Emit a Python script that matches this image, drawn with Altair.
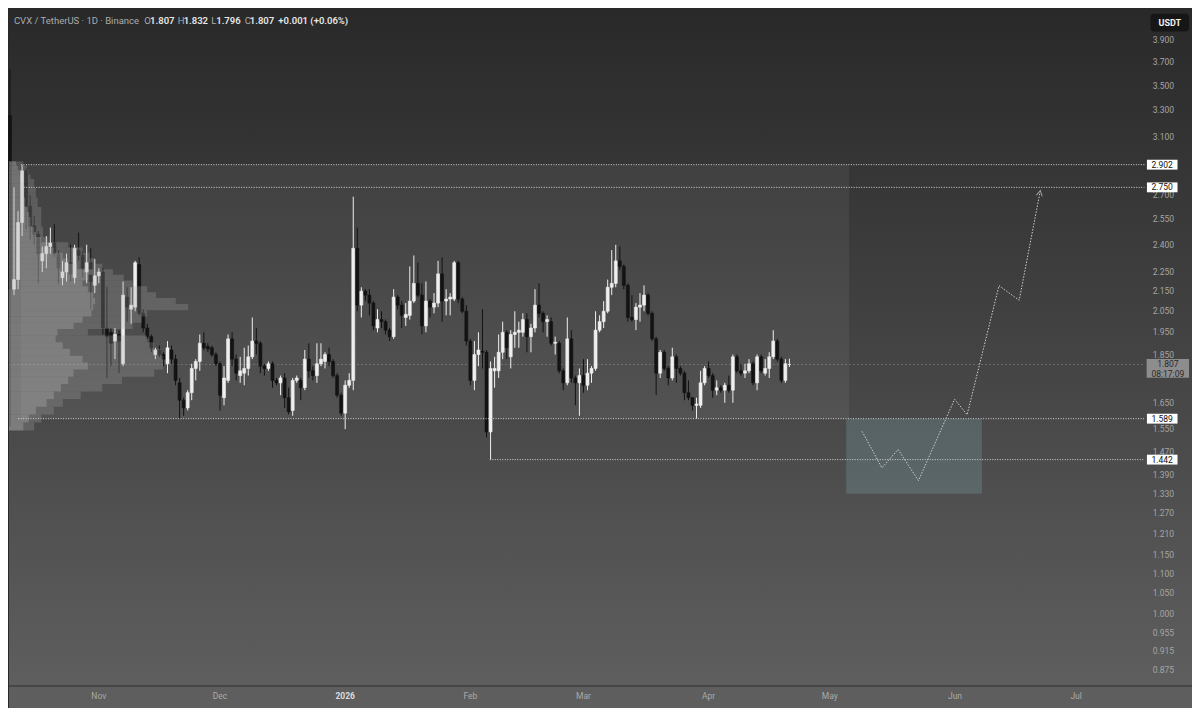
import altair as alt
import pandas as pd

# ---------------- canvas ----------------
W, H = 1184, 700          # whole chart (page is 1200x716 with an 8px margin)
RW, RH = 1200, 716        # reference picture size


def sx(v):
    return round(v * W / RW, 2)


def sy(v):
    return round(v * H / RH, 2)


# time is counted in days from 1 Nov 2025
X0, X1 = -22.244, 270.439       # days at the left / right edge of the picture
X_SCALE_EDGE = 258.9            # day at the price-scale border
P_TOP, P_BOT = 4.158, 0.8097    # prices at the top / bottom edge (log scale)

# ---------------- daily candles, CVX/USDT, from 10 Oct 2025 ----------------
FIRST_DAY = -22
opens = [3.26, 2.16, 2.21, 2.53, 2.86, 2.63, 2.51, 2.46, 2.31, 2.35,
         2.39, 2.41, 2.35, 2.22, 2.25, 2.30, 2.22, 2.37, 2.34, 2.25,
         2.30, 2.18, 2.23, 2.25, 1.97, 1.95, 1.91, 1.94, 1.81, 2.12,
         2.06, 2.07, 2.29, 2.04, 1.97, 1.93, 1.85, 1.87, 1.85, 1.81,
         1.87, 1.83, 1.73, 1.66, 1.63, 1.69, 1.79, 1.82, 1.90, 1.885,
         1.88, 1.85, 1.81, 1.67, 1.74, 1.92, 1.83, 1.76, 1.77, 1.79,
         1.84, 1.91, 1.90, 1.80, 1.79, 1.81, 1.74, 1.73, 1.75, 1.67,
         1.62, 1.74, 1.74, 1.71, 1.83, 1.78, 1.76, 1.81, 1.82, 1.85,
         1.82, 1.76, 1.68, 1.61, 1.72, 1.74, 2.38, 2.08, 2.15, 2.13,
         2.09, 1.97, 2.01, 2.00, 1.96, 1.93, 2.12, 2.08, 2.02, 2.03,
         2.10, 2.19, 2.13, 1.98, 2.10, 2.07, 2.09, 2.24, 2.10, 2.11,
         2.11, 2.30, 2.11, 2.05, 1.91, 1.74, 1.85, 1.865, 1.86, 1.54,
         1.78, 1.78, 1.86, 1.95, 1.84, 1.94, 1.95, 1.95, 2.01, 1.93,
         1.97, 2.08, 2.04, 2.00, 2.00, 1.90, 1.90, 1.78, 1.73, 1.92,
         1.75, 1.73, 1.76, 1.72, 1.77, 1.79, 1.96, 2.00, 2.05, 2.17,
         2.19, 2.31, 2.28, 2.18, 2.02, 2.01, 2.07, 2.08, 2.13, 2.04,
         1.92, 1.77, 1.86, 1.79, 1.75, 1.84, 1.79, 1.77, 1.69, 1.67,
         1.64, 1.64, 1.73, 1.79, 1.76, 1.70, 1.71, 1.70, 1.72, 1.70,
         1.84, 1.78, 1.77, 1.78, 1.81, 1.73, 1.84, 1.77, 1.79, 1.84,
         1.91, 1.83, 1.74, 1.807]
highs = [3.64, 2.75, 2.60, 2.90, 2.88, 2.70, 2.57, 2.48, 2.39, 2.45,
         2.50, 2.52, 2.37, 2.31, 2.35, 2.40, 2.40, 2.47, 2.36, 2.40,
         2.38, 2.32, 2.27, 2.27, 2.17, 1.97, 1.97, 1.96, 2.20, 2.17,
         2.17, 2.31, 2.33, 2.06, 1.99, 1.94, 1.88, 1.89, 1.86, 1.91,
         1.89, 1.85, 1.75, 1.67, 1.70, 1.81, 1.83, 1.94, 1.95, 1.90,
         1.89, 1.86, 1.82, 1.80, 1.94, 1.95, 1.85, 1.84, 1.88, 1.89,
         2.02, 1.97, 1.91, 1.81, 1.82, 1.82, 1.75, 1.76, 1.77, 1.71,
         1.75, 1.76, 1.75, 1.87, 1.90, 1.80, 1.90, 1.90, 1.86, 1.88,
         1.83, 1.77, 1.69, 1.74, 1.77, 2.69, 2.50, 2.17, 2.16, 2.16,
         2.10, 2.06, 2.05, 2.01, 1.97, 2.16, 2.13, 2.10, 2.09, 2.28,
         2.34, 2.30, 2.19, 2.20, 2.11, 2.14, 2.31, 2.33, 2.16, 2.14,
         2.31, 2.31, 2.12, 2.08, 1.92, 1.91, 1.95, 2.06, 1.87, 1.82,
         1.84, 1.94, 2.00, 1.96, 1.96, 2.05, 2.00, 2.04, 2.04, 1.99,
         2.16, 2.19, 2.05, 2.03, 2.02, 1.93, 1.91, 1.79, 2.02, 1.96,
         1.76, 1.79, 1.83, 1.83, 1.80, 2.05, 2.03, 2.10, 2.21, 2.37,
         2.40, 2.39, 2.29, 2.19, 2.13, 2.09, 2.14, 2.18, 2.14, 2.05,
         1.93, 1.87, 1.87, 1.80, 1.88, 1.85, 1.80, 1.78, 1.74, 1.67,
         1.67, 1.78, 1.80, 1.82, 1.77, 1.74, 1.72, 1.73, 1.76, 1.85,
         1.85, 1.81, 1.81, 1.83, 1.82, 1.85, 1.85, 1.83, 1.86, 1.96,
         1.92, 1.84, 1.83, 1.832]
lows = [1.56, 2.13, 2.16, 2.45, 2.49, 2.43, 2.40, 2.19, 2.25, 2.27,
        2.35, 2.33, 2.19, 2.18, 2.20, 2.20, 2.19, 2.31, 2.22, 2.19,
        2.06, 2.14, 2.19, 1.94, 1.75, 1.80, 1.83, 1.77, 1.80, 2.00,
        1.99, 2.05, 2.03, 1.95, 1.92, 1.86, 1.83, 1.84, 1.80, 1.77,
        1.81, 1.72, 1.59, 1.60, 1.62, 1.66, 1.74, 1.78, 1.87, 1.86,
        1.84, 1.80, 1.62, 1.64, 1.73, 1.80, 1.74, 1.73, 1.72, 1.76,
        1.83, 1.85, 1.77, 1.76, 1.78, 1.71, 1.72, 1.68, 1.63, 1.605,
        1.60, 1.73, 1.66, 1.70, 1.75, 1.74, 1.73, 1.80, 1.79, 1.80,
        1.75, 1.67, 1.60, 1.55, 1.71, 1.70, 2.05, 2.02, 2.10, 2.03,
        1.96, 1.95, 1.97, 1.94, 1.91, 1.92, 2.06, 1.97, 1.98, 2.01,
        2.09, 2.12, 1.94, 1.95, 2.02, 2.04, 2.07, 2.00, 2.03, 2.03,
        2.10, 2.09, 2.04, 1.89, 1.72, 1.70, 1.80, 1.79, 1.52, 1.442,
        1.71, 1.75, 1.83, 1.83, 1.79, 1.88, 1.88, 1.93, 1.86, 1.86,
        1.95, 2.02, 1.95, 1.93, 1.89, 1.85, 1.77, 1.70, 1.72, 1.73,
        1.64, 1.60, 1.69, 1.70, 1.73, 1.78, 1.95, 1.97, 2.04, 2.13,
        2.17, 2.26, 2.16, 2.00, 2.00, 1.96, 2.00, 2.05, 2.03, 1.91,
        1.68, 1.75, 1.78, 1.72, 1.74, 1.73, 1.76, 1.66, 1.66, 1.62,
        1.589, 1.63, 1.72, 1.75, 1.67, 1.68, 1.69, 1.65, 1.69, 1.65,
        1.77, 1.76, 1.75, 1.77, 1.72, 1.70, 1.77, 1.76, 1.75, 1.83,
        1.82, 1.73, 1.73, 1.796]
closes = [2.16, 2.21, 2.53, 2.86, 2.63, 2.51, 2.46, 2.35, 2.35, 2.39,
          2.41, 2.35, 2.27, 2.25, 2.30, 2.24, 2.38, 2.34, 2.27, 2.30,
          2.20, 2.23, 2.25, 1.97, 1.93, 1.90, 1.94, 1.91, 2.13, 2.07,
          2.08, 2.30, 2.04, 1.97, 1.93, 1.88, 1.87, 1.85, 1.83, 1.88,
          1.83, 1.74, 1.66, 1.63, 1.69, 1.79, 1.82, 1.90, 1.88, 1.875,
          1.85, 1.81, 1.68, 1.75, 1.92, 1.83, 1.77, 1.78, 1.79, 1.84,
          1.91, 1.90, 1.80, 1.79, 1.81, 1.74, 1.73, 1.75, 1.67, 1.615,
          1.74, 1.75, 1.71, 1.83, 1.78, 1.76, 1.81, 1.83, 1.85, 1.82,
          1.76, 1.68, 1.61, 1.72, 1.74, 2.38, 2.08, 2.15, 2.13, 2.09,
          1.98, 2.01, 2.00, 1.96, 1.93, 2.12, 2.08, 2.03, 2.035, 2.10,
          2.19, 2.13, 1.98, 2.10, 2.07, 2.09, 2.24, 2.10, 2.11, 2.12,
          2.30, 2.11, 2.05, 1.91, 1.74, 1.85, 1.87, 1.86, 1.54, 1.79,
          1.79, 1.86, 1.95, 1.88, 1.94, 1.95, 1.96, 2.01, 1.93, 1.97,
          2.08, 2.04, 2.00, 2.01, 1.90, 1.905, 1.78, 1.73, 1.92, 1.75,
          1.73, 1.76, 1.72, 1.77, 1.79, 1.96, 2.00, 2.05, 2.17, 2.19,
          2.31, 2.28, 2.18, 2.02, 2.01, 2.07, 2.08, 2.13, 2.04, 1.92,
          1.77, 1.86, 1.79, 1.75, 1.84, 1.79, 1.77, 1.69, 1.67, 1.64,
          1.645, 1.73, 1.79, 1.76, 1.70, 1.71, 1.70, 1.72, 1.70, 1.84,
          1.78, 1.77, 1.78, 1.81, 1.73, 1.84, 1.78, 1.79, 1.84, 1.91,
          1.83, 1.74, 1.81, 1.807]

# ---------------- visible-range volume profile (relative volume, peak = 100) ----------------
prof_price = [1.56, 1.59, 1.62, 1.65, 1.68, 1.71, 1.74, 1.77, 1.80, 1.83,
              1.86, 1.89, 1.92, 1.95, 1.98, 2.01, 2.04, 2.07, 2.10, 2.13,
              2.16, 2.19, 2.22, 2.25, 2.28, 2.31, 2.34, 2.37, 2.40, 2.43,
              2.46, 2.49, 2.52, 2.55, 2.58, 2.61, 2.64, 2.67, 2.70, 2.73,
              2.76, 2.79, 2.82, 2.85, 2.88, 2.91]
prof_total = [14, 18, 25, 30, 40, 52, 63, 81, 86, 86,
              85, 81, 77, 44, 69, 74, 77, 100, 93, 82,
              77, 69, 64, 58, 52, 48, 45, 41, 33, 22,
              19, 19, 18, 18, 18, 18, 16, 16, 15, 15,
              14, 14, 12, 11, 10, 8]
prof_up = [8, 11, 15, 21, 25, 29, 33, 36, 44, 41,
           34, 30, 26, 27, 36, 41, 46, 47, 48, 47,
           44, 41, 44, 47, 38, 33, 30, 25, 22, 18,
           15, 14, 12, 12, 11, 10, 9, 9, 8, 8,
           8, 7, 7, 6, 5, 4]
PROF_ROW = 0.03
PROF_DOMAIN_MAX = 659.3   # relative volume that would span the whole width

# ---------------- levels, range box, projection, zone ----------------
level_price = [2.902, 2.750, 1.589, 1.442]
level_start = [-19.3, -18.6, -20.0, 96.8]
level_label = ["2.902", "2.750", "1.589", "1.442"]
last_price = 1.807
countdown = "08:17:09"

range_day = [-19.3, 185.8]
range_price = [1.589, 2.902]

path_day = [189.0, 193.9, 197.9, 202.95, 211.9, 215.0, 222.9, 227.9, 233.0]
path_price = [1.542, 1.414, 1.477, 1.372, 1.664, 1.604, 2.178, 2.104, 2.712]

zone_day = [185.07, 218.66]
zone_price = [1.330, 1.589]

# price-scale labels (1.750 sits under the last-price box and is left out)
tick_values = [3.9, 3.7, 3.5, 3.3, 3.1, 2.7, 2.55, 2.4, 2.25, 2.15, 2.05, 1.95,
               1.85, 1.65, 1.55, 1.47, 1.39, 1.33, 1.27, 1.21, 1.15,
               1.10, 1.05, 1.00, 0.955, 0.915, 0.875]
month_labels = ["Nov", "Dec", "2026", "Feb", "Mar", "Apr", "May", "Jun", "Jul"]
month_days = [0, 30, 61, 92, 120, 151, 181, 212, 242]

# ---------------- frames ----------------
n = len(opens)
candles = pd.DataFrame({
    "day": list(range(FIRST_DAY, FIRST_DAY + n)),
    "open": opens, "high": highs, "low": lows, "close": closes,
})
candles["dir"] = ["up" if c >= o else "down" for o, c in zip(opens, closes)]
candles["x0"] = candles["day"] - 0.37
candles["x1"] = candles["day"] + 0.37

prof = pd.DataFrame({"price": prof_price, "total": prof_total, "up": prof_up})
prof["lo"] = prof["price"] - PROF_ROW / 2
prof["hi"] = prof["price"] + PROF_ROW / 2

levels = pd.DataFrame({"price": level_price, "start": level_start,
                       "end": [X_SCALE_EDGE] * len(level_price), "label": level_label})
last = pd.DataFrame({"price": [last_price], "start": [X0], "end": [X_SCALE_EDGE],
                     "label": [f"{last_price:.3f}"], "cd": [countdown]})
rng = pd.DataFrame({"d0": [range_day[0]], "d1": [range_day[1]],
                    "p0": [range_price[0]], "p1": [range_price[1]]})
path = pd.DataFrame({"day": path_day, "price": path_price, "order": list(range(len(path_day)))})
arrow = path.tail(1)
zone = pd.DataFrame({"d0": [zone_day[0]], "d1": [zone_day[1]],
                     "p0": [zone_price[0]], "p1": [zone_price[1]]})
ticks = pd.DataFrame({"price": tick_values, "label": [f"{v:.3f}" for v in tick_values]})
months = pd.DataFrame({"day": month_days, "label": month_labels})
one = pd.DataFrame({"a": [0]})

XS = alt.Scale(domain=[X0, X1], nice=False, zero=False)
YS = alt.Scale(type="log", domain=[P_BOT, P_TOP], nice=False)
VS = alt.Scale(domain=[0, PROF_DOMAIN_MAX], nice=False, zero=True)
CS = alt.Scale(domain=["up", "down"], range=["#efefef", "#131313"])


def X(f):
    return alt.X(f, type="quantitative", scale=XS, axis=None)


def Y(f):
    return alt.Y(f, type="quantitative", scale=YS, axis=None)


FONT = "Roboto"

bg = alt.Chart(one).mark_rect(
    color=alt.LinearGradient(
        gradient="linear",
        stops=[alt.GradientStop(color="#292929", offset=0),
               alt.GradientStop(color="#444444", offset=0.5),
               alt.GradientStop(color="#606060", offset=1)],
        x1=0, x2=0, y1=0, y2=1)
).encode(x=alt.value(0), x2=alt.value(W), y=alt.value(0), y2=alt.value(H))

range_rect = alt.Chart(rng).mark_rect(color="#ffffff", opacity=0.06).encode(
    x=X("d0"), x2="d1", y=Y("p0"), y2="p1")

zone_rect = alt.Chart(zone).mark_rect(color="#7fa6b0", opacity=0.28).encode(
    x=X("d0"), x2="d1", y=Y("p0"), y2="p1")

wicks = alt.Chart(candles).mark_rule(strokeWidth=1).encode(
    x=X("day"), y=Y("low"), y2="high",
    color=alt.Color("dir:N", scale=CS, legend=None))

bodies = alt.Chart(candles).mark_rect(strokeWidth=0.6).encode(
    x=X("x0"), x2="x1", y=Y("open"), y2="close",
    fill=alt.Fill("dir:N", scale=CS, legend=None),
    stroke=alt.Stroke("dir:N", scale=CS, legend=None))

prof_total_bar = alt.Chart(prof).mark_bar(orient="horizontal", color="#a8a8a8", opacity=0.27).encode(
    x=alt.X("total:Q", scale=VS, axis=None), y=Y("lo"), y2="hi")
prof_up_bar = alt.Chart(prof).mark_bar(orient="horizontal", color="#c8c8c8", opacity=0.26).encode(
    x=alt.X("up:Q", scale=VS, axis=None), y=Y("lo"), y2="hi")

last_line = alt.Chart(last).mark_rule(color="#9a9a9a", strokeWidth=1, opacity=0.45,
                                      strokeDash=[2, 2]).encode(x=X("start"), x2="end", y=Y("price"))
level_lines = alt.Chart(levels).mark_rule(color="#d6d6d6", strokeWidth=1,
                                          strokeDash=[1, 1.5]).encode(x=X("start"), x2="end", y=Y("price"))

path_line = alt.Chart(path).mark_line(color="#cfcfcf", strokeWidth=1, strokeDash=[1.5, 1.5]).encode(
    x=X("day"), y=Y("price"), order="order:Q")
arrow_head = alt.Chart(arrow).mark_point(shape="M -1 0.9 L 0 -0.9 L 1 0.9", filled=False,
                                         color="#cfcfcf", strokeWidth=1, size=36, angle=11).encode(
    x=X("day"), y=Y("price"))

# bottom time-scale strip
time_strip = alt.Chart(one).mark_rect(color="#5e5e5e").encode(
    x=alt.value(0), x2=alt.value(W), y=alt.value(sy(693)), y2=alt.value(H))
time_border = alt.Chart(one).mark_rule(color="#2e2e2e", strokeWidth=1).encode(
    x=alt.value(0), x2=alt.value(W), y=alt.value(sy(693.5)))
month_plain = alt.Chart(months).transform_filter("datum.label != '2026'").mark_text(
    font=FONT, fontSize=8.5, baseline="middle", align="center", color="#a9a9a9").encode(
    x=X("day"), y=alt.value(sy(704)), text="label:N")
month_bold = alt.Chart(months).transform_filter("datum.label == '2026'").mark_text(
    font=FONT, fontSize=8.5, baseline="middle", align="center", color="#dcdcdc", fontWeight="bold").encode(
    x=X("day"), y=alt.value(sy(704)), text="label:N")

# price scale labels
tick_text = alt.Chart(ticks).mark_text(font=FONT, fontSize=8.5, color="#a5a5a5", align="center",
                                       baseline="middle").encode(
    x=alt.value(sx(1170)), y=Y("price"), text="label:N")

BOX = "M -1 -0.3226 L 1 -0.3226 L 1 0.3226 L -1 0.3226 Z"
level_box = alt.Chart(levels).mark_point(shape=BOX, filled=True, color="#ffffff", opacity=1,
                                         size=sx(31) ** 2, strokeWidth=0).encode(
    x=alt.value(sx(1168.8)), y=Y("price"))
level_box_text = alt.Chart(levels).mark_text(font=FONT, fontSize=8.5, color="#111111", align="center",
                                             baseline="middle").encode(
    x=alt.value(sx(1168.8)), y=Y("price"), text="label:N")

LBOX = "M -1 -0.442 L 1 -0.442 L 1 0.442 L -1 0.442 Z"
last_box = alt.Chart(last).mark_point(shape=LBOX, filled=True, color="#8d8d8d", opacity=1,
                                      size=sx(43) ** 2, strokeWidth=0, yOffset=sy(4)).encode(
    x=alt.value(sx(1174.5)), y=Y("price"))
last_text = alt.Chart(last).mark_text(font=FONT, fontSize=8.5, color="#2a2a2a", align="center",
                                      baseline="middle").encode(
    x=alt.value(sx(1174.5)), y=Y("price"), text="label:N")
last_cd = alt.Chart(last).mark_text(font=FONT, fontSize=8.5, color="#2a2a2a", align="center",
                                    baseline="middle", yOffset=sy(9.5)).encode(
    x=alt.value(sx(1174.5)), y=Y("price"), text="cd:N")

usdt_box = alt.Chart(one).mark_rect(color="#161616", cornerRadius=3).encode(
    x=alt.value(sx(1157)), x2=alt.value(sx(1196)), y=alt.value(sy(6)), y2=alt.value(sy(24)))
usdt_text = alt.Chart(one).mark_text(text="USDT", font=FONT, fontSize=9, fontWeight="bold",
                                     color="#f2f2f2", align="center", baseline="middle").encode(
    x=alt.value(sx(1176.5)), y=alt.value(sy(15)))

# legend line at top-left
title_parts = ["CVX / TetherUS · 1D · Binance", "O", "1.807", "H", "1.832", "L", "1.796", "C", "1.807",
               "+0.001 (+0.06%)"]
title_x = [5, 137, 143, 171, 177, 205, 210, 239, 244, 273]
title_strong = [False, False, True, False, True, False, True, False, True, True]
title_df = pd.DataFrame({"t": title_parts, "px": [sx(v) for v in title_x], "strong": title_strong})
title_plain = alt.Chart(title_df).transform_filter("!datum.strong").mark_text(
    font=FONT, fontSize=9.5, align="left", baseline="middle", color="#ababab").encode(
    x=alt.X("px:Q", scale=None, axis=None), y=alt.value(sy(13)), text="t:N")
title_strong_t = alt.Chart(title_df).transform_filter("datum.strong").mark_text(
    font=FONT, fontSize=9.5, align="left", baseline="middle", color="#e6e6e6", fontWeight=600).encode(
    x=alt.X("px:Q", scale=None, axis=None), y=alt.value(sy(13)), text="t:N")

chart = alt.layer(
    bg, range_rect, zone_rect, last_line, wicks, bodies, prof_total_bar, prof_up_bar, level_lines,
    path_line, arrow_head, time_strip, time_border, month_plain, month_bold, tick_text,
    level_box, level_box_text, last_box, last_text, last_cd, usdt_box, usdt_text,
    title_plain, title_strong_t
).resolve_scale(x="independent").properties(
    width=W, height=H, padding=0,
    autosize=alt.AutoSizeParams(type="fit", contains="padding"),
    background="#292929",
).configure_view(stroke=None)

chart.save("out.html", embed_options={"renderer": "svg", "actions": False})
